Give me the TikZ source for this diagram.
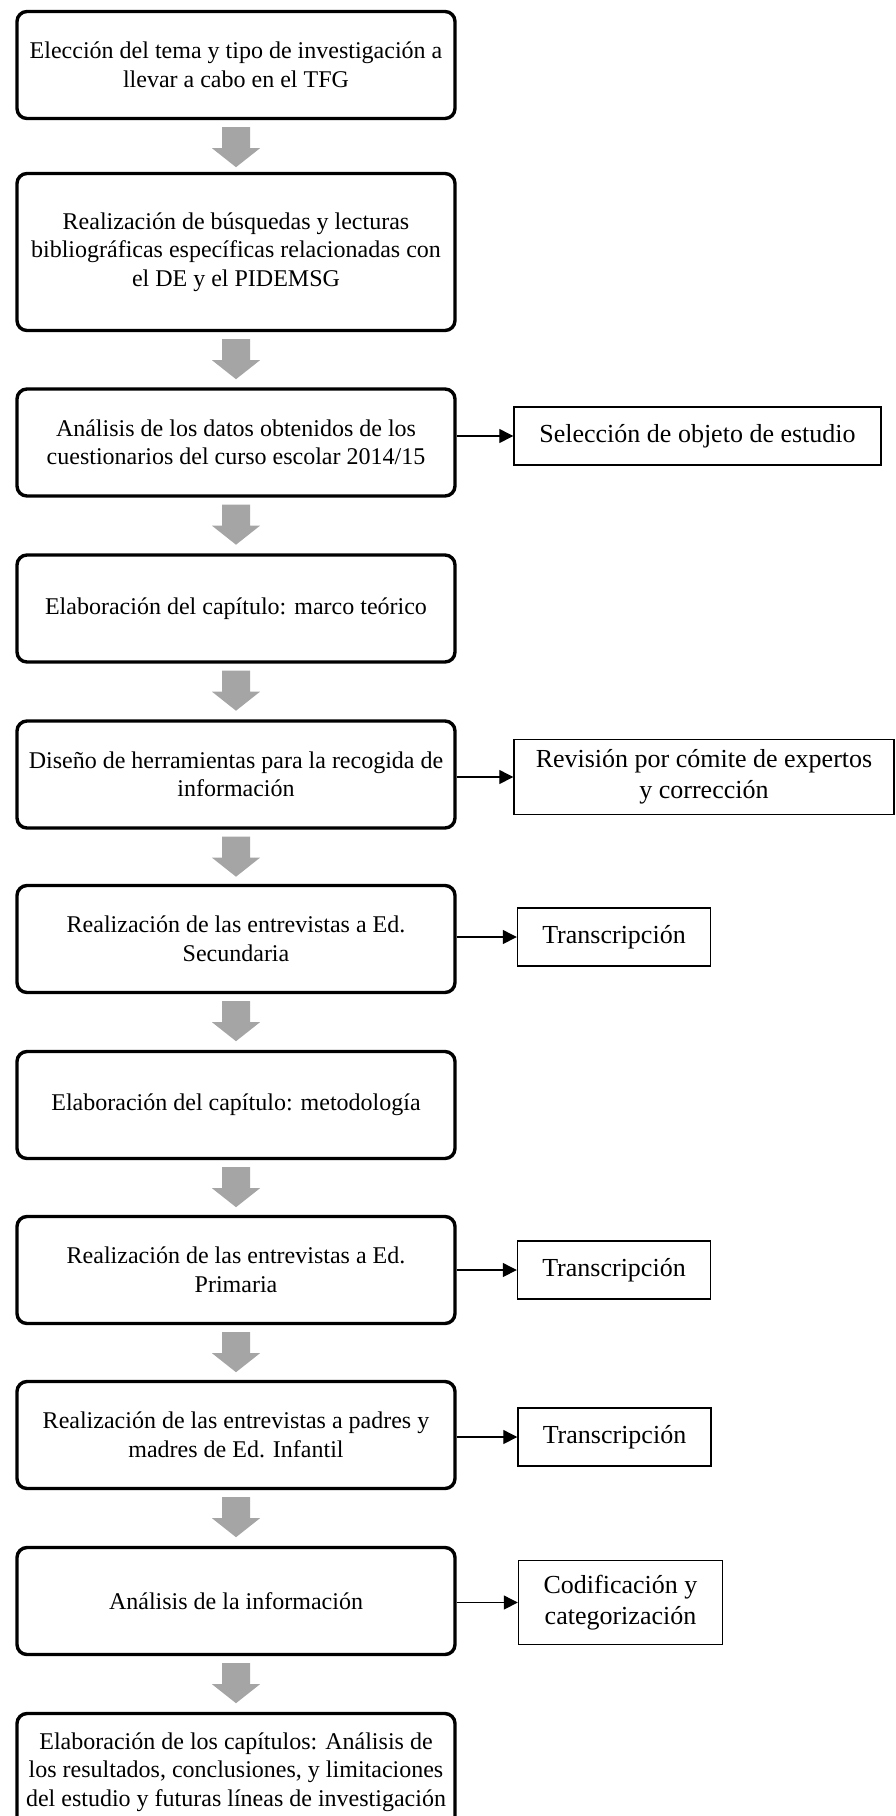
\documentclass[tikz,border=0pt]{standalone}
\usepackage{fontspec}
\setmainfont{Liberation Serif}
\usetikzlibrary{arrows.meta}
\definecolor{gris}{HTML}{A5A5A5}
\begin{document}
\begin{tikzpicture}[x=1pt,y=-1pt]

\tikzset{
	paso/.style={draw,line width=3.4pt,rounded corners=10pt,align=center,
	minimum width=438pt,minimum height=#1,inner sep=0pt,
	font=\fontsize{24}{28.5}\selectfont},
	paso/.default=107pt,
	nota/.style={draw,line width=1.4pt,align=center,minimum height=#1,inner sep=0pt,
	font=\fontsize{26}{31}\selectfont},
	nota/.default=58pt,
	flecha/.style={-{Triangle[length=14pt,width=14pt]},line width=1.3pt},
	pics/bajada/.style={code={
	\fill[gris] (-14,7) -- (14,7) -- (14,28) -- (24,28) -- (0,47) -- (-24,28) -- (-14,28) -- cycle;
	}}
}
	\useasboundingbox (0,0) rectangle (896,1816);

	%PASOS
	\node[paso] (p1) at (236,65) {Elección del tema y tipo de investigación a\\llevar a cabo en el TFG};
	\node[paso=157pt] (p2) at (236,252) {Realización de búsquedas y lecturas\\bibliográficas específicas relacionadas con\\el DE y el PIDEMSG};
	\node[paso] (p3) at (236,442.5) {Análisis de los datos obtenidos de los\\cuestionarios del curso escolar 2014/15};
	\node[paso] (p4) at (236,608.5) {Elaboración del capítulo: marco teórico};
	\node[paso] (p5) at (236,774.5) {Diseño de herramientas para la recogida de\\información};
	\node[paso] (p6) at (236,939) {Realización de las entrevistas a Ed.\\Secundaria};
	\node[paso] (p7) at (236,1105) {Elaboración del capítulo: metodología};
	\node[paso] (p8) at (236,1270) {Realización de las entrevistas a Ed.\\Primaria};
	\node[paso] (p9) at (236,1435) {Realización de las entrevistas a padres y\\madres de Ed. Infantil};
	\node[paso] (p10) at (236,1601) {Análisis de la información};
	\node[paso=117pt] (p11) at (236,1772) {Elaboración de los capítulos: Análisis de\\los resultados, conclusiones, y limitaciones\\del estudio y futuras líneas de investigación};

	%flechas grises
	\foreach \i in {1,...,10} {
		\path (p\i.south) pic {bajada};
	}

	%NOTAS
	\node[nota,minimum width=367pt] (s3) at (697.5,436) {Selección de objeto de estudio};
	\node[nota=75pt,minimum width=380pt] (s5) at (704,777) {Revisión por cómite de expertos\\y corrección};
	\node[nota,minimum width=193pt] (s6) at (614,937) {Transcripción};
	\node[nota,minimum width=193pt] (s8) at (614,1270) {Transcripción};
	\node[nota,minimum width=193pt] (s9) at (614.5,1437) {Transcripción};
	\node[nota=84pt,minimum width=204pt] (s10) at (620.5,1602.5) {Codificación y\\categorización};

	\foreach \i in {3,5,6,8,9,10} {
		\draw[flecha] (s\i.west -| p\i.east) -- (s\i.west);
	}
\end{tikzpicture}
\end{document}
